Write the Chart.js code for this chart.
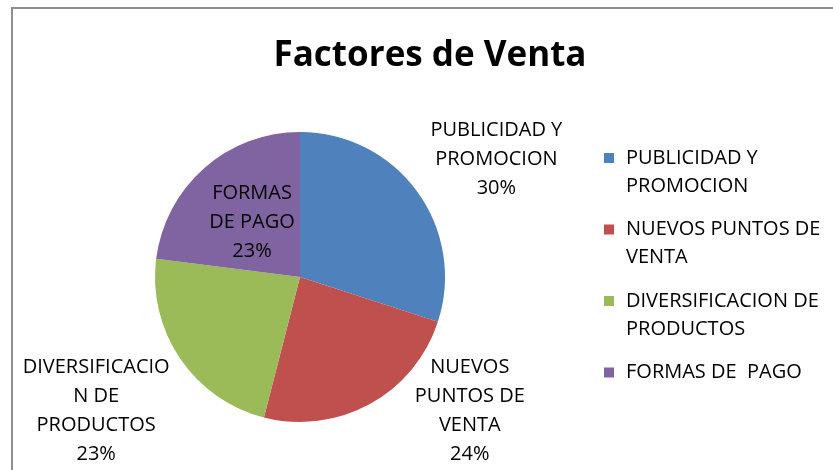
<!DOCTYPE html>
<html>
<head>
<meta charset="utf-8">
<script src="https://cdn.jsdelivr.net/npm/chart.js@4"></script>
<style>
  body { margin: 0; background: #fff; }
  #wrap { position: relative; width: 833px; height: 470px; overflow: hidden; }
  #frame { position: absolute; left: 11px; top: 7px; width: 900px; height: 500px;
           border: 2px solid #8e8e8e; box-sizing: border-box; pointer-events: none; }
  canvas { position: absolute; left: 0; top: 0; }
</style>
</head>
<body>
<div id="wrap">
  <canvas id="ctx_factores" width="833" height="470"></canvas>
  <div id="frame"></div>
</div>
<script>
var chartTitle   = 'Factores de Venta';
var categories   = ['PUBLICIDAD Y PROMOCION', 'NUEVOS PUNTOS DE VENTA', 'DIVERSIFICACION DE PRODUCTOS', 'FORMAS DE PAGO'];
var values       = [30, 24, 23, 23];
var sliceColors  = ['#4f81bd', '#c0504d', '#9bbb59', '#8064a2'];

// how each name wraps, inside the pie and in the legend
var labelLines   = [['PUBLICIDAD Y', 'PROMOCION'], ['NUEVOS', 'PUNTOS DE', 'VENTA'], ['DIVERSIFICACIO', 'N DE', 'PRODUCTOS'], ['FORMAS', 'DE PAGO']];
var legendLines  = [['PUBLICIDAD Y', 'PROMOCION'], ['NUEVOS PUNTOS DE', 'VENTA'], ['DIVERSIFICACION DE', 'PRODUCTOS'], ['FORMAS DE  PAGO']];

// label placement: distance from centre (x radius) and angle shift (deg)
var labelDist    = [1.58, 1.49, 1.68, 0.50];
var labelShift   = [5, -23, 1, 0];

var FONT = '"Open Sans", "Liberation Sans", sans-serif';

var decorPlugin = {
    id: 'decor',
    afterDraw: function(chart) {
        var ctx = chart.ctx;
        var meta = chart.getDatasetMeta(0);
        var total = values.reduce(function(a, b) { return a + b; }, 0);

        ctx.save();
        // title
        ctx.fillStyle = '#000';
        ctx.textAlign = 'center';
        ctx.textBaseline = 'middle';
        ctx.font = 'bold 35px ' + FONT;
        ctx.fillText(chartTitle, 430, 56);

        // data labels
        ctx.font = '20px ' + FONT;
        meta.data.forEach(function(arc, i) {
            var p = arc.getProps(['x', 'y', 'startAngle', 'endAngle', 'outerRadius'], true);
            var a = (p.startAngle + p.endAngle) / 2 + labelShift[i] * Math.PI / 180;
            var r = p.outerRadius * labelDist[i];
            var cx = p.x + Math.cos(a) * r;
            var cy = p.y + Math.sin(a) * r;
            var lines = labelLines[i].concat([Math.round(values[i] / total * 100) + '%']);
            var lh = 29;
            var y0 = cy - (lines.length - 1) * lh / 2;
            lines.forEach(function(t, k) { ctx.fillText(t, cx, y0 + k * lh); });
        });

        // legend
        ctx.textAlign = 'left';
        var ly = 158;
        legendLines.forEach(function(lines, i) {
            ctx.fillStyle = sliceColors[i];
            ctx.fillRect(604, ly - 5, 10, 10);
            ctx.fillStyle = '#000';
            lines.forEach(function(t, k) { ctx.fillText(t, 626, ly + k * 28); });
            ly += 71.5;
        });
        ctx.restore();
    }
};

var ctx = document.getElementById('ctx_factores');
var myChart = new Chart(ctx, {
    type: 'pie',
    data: {
        labels: categories,
        datasets: [{
            data: values,
            backgroundColor: sliceColors,
            borderWidth: 0
        }]
    },
    options: {
        responsive: false,
        animation: false,
        layout: {
            padding: { left: 155, right: 388, top: 132, bottom: 48 }
        },
        plugins: {
            legend: { display: false },
            title: { display: false },
            tooltip: { enabled: false }
        }
    },
    plugins: [decorPlugin]
});
</script>
</body>
</html>
